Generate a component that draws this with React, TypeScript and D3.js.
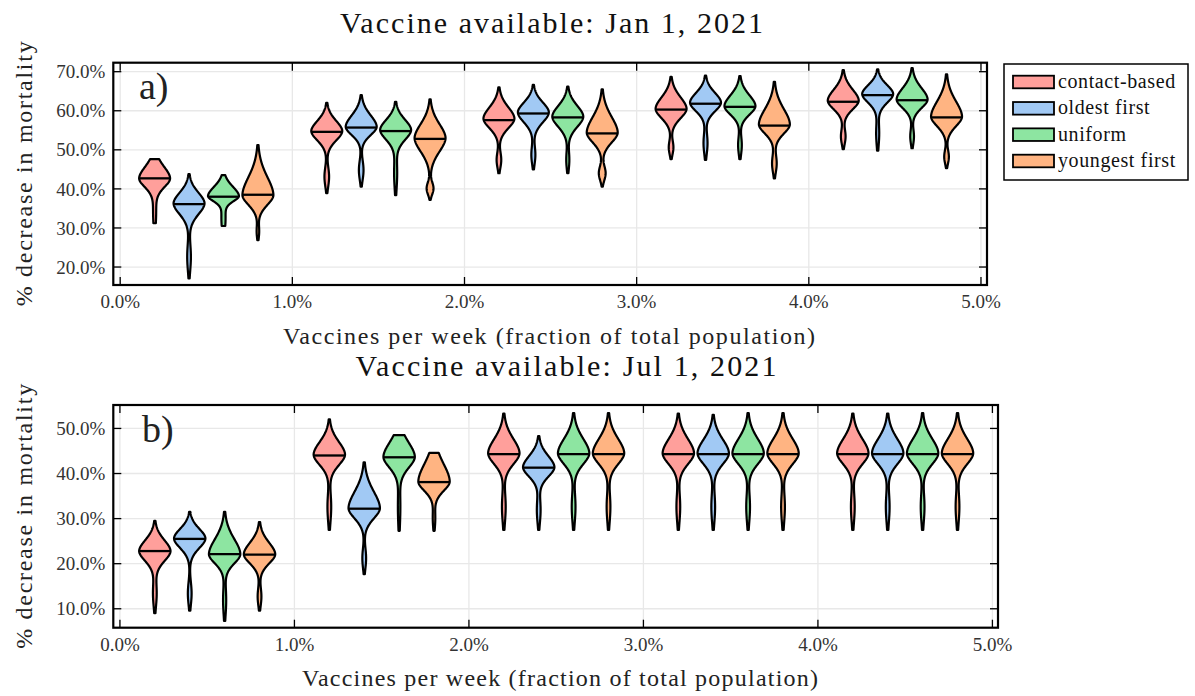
import React, { useEffect, useRef } from 'react';
import * as d3 from 'd3';

// strategies, in legend order
const strategies = ['contact-based', 'oldest first', 'uniform', 'youngest first'];
const colors = ['#FF9F9B', '#A1C9F4', '#8DE5A1', '#FFB482'];
// each strategy sits at group + offset on the x axis (percent per week)
const strategyOffsets = [0.2, 0.4, 0.6, 0.8];
const rateGroups = [0, 1, 2, 3, 4];
const xTicks = [0, 1, 2, 3, 4, 5];
const janYTicks = [20, 30, 40, 50, 60, 70];
const julYTicks = [10, 20, 30, 40, 50];

// one violin per row:
// [min, lower lobe, lobe width, neck, mode, median, max, width at min, width at max]
const janContactBased = [
  [31.2, 34.0, 0.1, 36.5, 42.7, 42.7, 47.6, 0.08, 0.3],
  [38.9, 43.1, 0.15, 48.2, 54.8, 54.6, 62.0, 0.04, 0.04],
  [44.0, 47.4, 0.15, 51.2, 58.0, 57.6, 66.0, 0.04, 0.04],
  [47.6, 50.6, 0.15, 53.8, 60.5, 60.3, 68.7, 0.04, 0.04],
  [50.2, 53.4, 0.15, 56.4, 62.6, 62.3, 70.4, 0.04, 0.04],
];
const janOldestFirst = [
  [17.1, 22.6, 0.12, 28.6, 36.3, 36.1, 43.8, 0.04, 0.04],
  [40.6, 44.8, 0.15, 50.0, 55.9, 55.7, 64.0, 0.04, 0.04],
  [45.0, 48.7, 0.13, 52.5, 59.6, 59.3, 66.6, 0.04, 0.04],
  [47.4, 51.7, 0.13, 55.9, 62.1, 61.8, 69.0, 0.04, 0.04],
  [49.8, 54.2, 0.1, 58.1, 64.3, 64.0, 70.6, 0.04, 0.04],
];
const janUniform = [
  [30.5, 32.5, 0.14, 34.5, 38.2, 38.0, 43.5, 0.12, 0.12],
  [38.4, 44.0, 0.1, 48.2, 55.1, 54.8, 62.3, 0.04, 0.04],
  [44.0, 47.4, 0.1, 51.2, 58.5, 58.3, 66.2, 0.04, 0.04],
  [47.6, 51.2, 0.12, 55.1, 61.2, 61.0, 68.9, 0.04, 0.04],
  [50.4, 53.4, 0.12, 56.8, 62.9, 62.7, 70.9, 0.04, 0.04],
];
const janYoungestFirst = [
  [26.9, 29.0, 0.08, 31.5, 38.4, 38.5, 51.2, 0.04, 0.04],
  [37.2, 40.1, 0.22, 43.5, 53.0, 52.8, 62.9, 0.04, 0.04],
  [40.6, 44.0, 0.22, 47.4, 54.4, 54.2, 65.5, 0.04, 0.04],
  [42.7, 46.5, 0.15, 50.0, 56.5, 56.2, 67.4, 0.04, 0.04],
  [45.3, 48.2, 0.15, 51.7, 58.5, 58.3, 69.3, 0.04, 0.04],
];

const julContactBased = [
  [9.0, 13.4, 0.12, 16.7, 22.8, 22.8, 29.5, 0.04, 0.04],
  [27.5, 32.6, 0.12, 37.8, 44.2, 44.0, 52.0, 0.04, 0.04],
  [27.5, 32.6, 0.12, 37.8, 44.5, 44.3, 53.3, 0.04, 0.04],
  [27.5, 32.6, 0.12, 37.8, 44.5, 44.3, 53.3, 0.04, 0.04],
  [27.5, 32.6, 0.12, 37.8, 44.5, 44.3, 53.3, 0.04, 0.04],
];
const julOldestFirst = [
  [9.6, 13.4, 0.12, 19.7, 25.6, 25.5, 31.5, 0.04, 0.04],
  [17.7, 21.2, 0.12, 26.0, 32.3, 32.2, 42.5, 0.04, 0.04],
  [27.5, 31.9, 0.12, 35.6, 41.4, 41.3, 48.3, 0.04, 0.04],
  [27.5, 32.6, 0.12, 37.8, 44.5, 44.3, 53.0, 0.04, 0.04],
  [27.5, 32.6, 0.12, 37.8, 44.5, 44.3, 53.3, 0.04, 0.04],
];
const julUniform = [
  [7.3, 11.9, 0.1, 16.4, 22.1, 22.1, 31.5, 0.04, 0.04],
  [27.3, 32.6, 0.08, 37.1, 43.7, 43.6, 48.5, 0.04, 0.35],
  [27.5, 32.6, 0.12, 37.8, 44.5, 44.3, 53.4, 0.04, 0.04],
  [27.5, 32.6, 0.12, 37.8, 44.5, 44.3, 53.4, 0.04, 0.04],
  [27.5, 32.6, 0.12, 37.8, 44.5, 44.3, 53.4, 0.04, 0.04],
];
const julYoungestFirst = [
  [9.6, 12.7, 0.12, 16.4, 22.1, 22.0, 29.2, 0.04, 0.04],
  [27.3, 30.0, 0.08, 32.5, 38.2, 38.1, 44.6, 0.04, 0.3],
  [27.5, 32.6, 0.12, 37.8, 44.5, 44.3, 53.4, 0.04, 0.04],
  [27.5, 32.6, 0.12, 37.8, 44.5, 44.3, 53.4, 0.04, 0.04],
  [27.5, 32.6, 0.12, 37.8, 44.5, 44.3, 53.4, 0.04, 0.04],
];

const FONT = '"Liberation Serif", "Times New Roman", serif';

// smooth outline width for one violin, built from the values read above
function violinWidth(v: number[]) {
  const [lo, lobe, lobeW, neck, mode, , hi, loTip, hiTip] = v;
  const p = 1.85;
  const su = (hi - mode) / Math.pow(-Math.log(hiTip), 1 / p);
  const sd = (mode - neck) / Math.pow(-Math.log(0.04), 1 / p);
  const ls = (lobe - lo) / Math.sqrt(-2 * Math.log(Math.min(loTip / lobeW, 0.95)));
  return (val: number) => {
    const d = val - mode;
    const body = Math.exp(-Math.pow(Math.abs(d) / (d > 0 ? su : sd), p));
    const lb = lobeW * Math.exp(-0.5 * ((val - lobe) / ls) ** 2);
    return body + lb;
  };
}

function drawPanel(svg: any, cfg: any) {
  const { left, right, top, bottom, xDomain, yDomain, yTicks, series } = cfg;
  const x = d3.scaleLinear().domain(xDomain).range([left, right]);
  const y = d3.scaleLinear().domain(yDomain).range([bottom, top]);
  const g = svg.append('g');

  // grid
  g.selectAll('.gy')
    .data(yTicks)
    .join('line')
    .attr('x1', left)
    .attr('x2', right)
    .attr('y1', (d) => y(d))
    .attr('y2', (d) => y(d))
    .attr('stroke', '#e8e8e8')
    .attr('stroke-width', 1.3);
  g.selectAll('.gx')
    .data(xTicks)
    .join('line')
    .attr('x1', (d) => x(d))
    .attr('x2', (d) => x(d))
    .attr('y1', top)
    .attr('y2', bottom)
    .attr('stroke', '#e8e8e8')
    .attr('stroke-width', 1.3);

  // violins
  const halfW = x(0.09) - x(0);
  series.forEach((violins, si) => {
    violins.forEach((v, k) => {
      const cx = x(rateGroups[k] + strategyOffsets[si]);
      const lo = v[0];
      const hi = v[6];
      const med = v[5];
      const wf = violinWidth(v);
      const n = 140;
      const pts = d3.range(n + 1).map((i) => {
        const val = lo + ((hi - lo) * i) / n;
        return [val, wf(val)];
      });
      const wmax = d3.max(pts, (d) => d[1]);
      const area = d3
        .area()
        .y((d) => y(d[0]))
        .x0((d) => cx - (d[1] / wmax) * halfW)
        .x1((d) => cx + (d[1] / wmax) * halfW);
      g.append('path')
        .attr('d', area(pts))
        .attr('fill', colors[si])
        .attr('stroke', '#000')
        .attr('stroke-width', 2.2)
        .attr('stroke-linejoin', 'round');
      const mw = (wf(med) / wmax) * halfW;
      g.append('line')
        .attr('x1', cx - mw)
        .attr('x2', cx + mw)
        .attr('y1', y(med))
        .attr('y2', y(med))
        .attr('stroke', '#000')
        .attr('stroke-width', 2.3);
    });
  });

  // ticks (inside, all four sides)
  const tk = 8;
  yTicks.forEach((t) => {
    g.append('line').attr('x1', left).attr('x2', left + tk).attr('y1', y(t)).attr('y2', y(t)).attr('stroke', '#000').attr('stroke-width', 1.3);
    g.append('line').attr('x1', right - tk).attr('x2', right).attr('y1', y(t)).attr('y2', y(t)).attr('stroke', '#000').attr('stroke-width', 1.3);
  });
  xTicks.forEach((t) => {
    g.append('line').attr('x1', x(t)).attr('x2', x(t)).attr('y1', bottom).attr('y2', bottom - tk).attr('stroke', '#000').attr('stroke-width', 1.3);
    g.append('line').attr('x1', x(t)).attr('x2', x(t)).attr('y1', top).attr('y2', top + tk).attr('stroke', '#000').attr('stroke-width', 1.3);
  });

  // frame
  g.append('rect')
    .attr('x', left)
    .attr('y', top)
    .attr('width', right - left)
    .attr('height', bottom - top)
    .attr('fill', 'none')
    .attr('stroke', '#000')
    .attr('stroke-width', 2.2);

  // tick labels
  g.selectAll('.yl')
    .data(yTicks)
    .join('text')
    .attr('x', left - 8)
    .attr('y', (d) => y(d))
    .attr('dy', '0.35em')
    .attr('text-anchor', 'end')
    .attr('font-family', FONT)
    .attr('font-size', 19)
    .attr('fill', '#333')
    .text((d) => d.toFixed(1) + '%');
  g.selectAll('.xl')
    .data(xTicks)
    .join('text')
    .attr('x', (d) => x(d))
    .attr('y', cfg.xTickY)
    .attr('text-anchor', 'middle')
    .attr('font-family', FONT)
    .attr('font-size', 19)
    .attr('fill', '#333')
    .text((d) => d.toFixed(1) + '%');

  // panel letter
  g.append('text')
    .attr('x', cfg.letterX)
    .attr('y', cfg.letterY)
    .attr('font-family', FONT)
    .attr('font-size', 38)
    .attr('fill', '#222')
    .text(cfg.letter);

  // title and axis titles
  g.append('text')
    .attr('x', cfg.titleX)
    .attr('y', cfg.titleY)
    .attr('text-anchor', 'middle')
    .attr('font-family', FONT)
    .attr('font-size', 30)
    .attr('fill', '#111')
    .attr('textLength', cfg.titleLen)
    .attr('lengthAdjust', 'spacing')
    .text(cfg.title);
  g.append('text')
    .attr('x', cfg.xLabelX)
    .attr('y', cfg.xLabelY)
    .attr('text-anchor', 'middle')
    .attr('font-family', FONT)
    .attr('font-size', 24)
    .attr('fill', '#222')
    .attr('textLength', cfg.xLabelLen)
    .attr('lengthAdjust', 'spacing')
    .text('Vaccines per week (fraction of total population)');
  g.append('text')
    .attr('transform', `translate(32,${(top + bottom) / 2}) rotate(-90)`)
    .attr('text-anchor', 'middle')
    .attr('font-family', FONT)
    .attr('font-size', 24)
    .attr('fill', '#222')
    .attr('textLength', 265)
    .attr('lengthAdjust', 'spacing')
    .text('% decrease in mortality');
}

export default function App() {
  const ref = useRef(null);

  useEffect(() => {
    const svg = d3.select(ref.current);
    svg.selectAll('*').remove();

    svg.append('rect').attr('width', 1195).attr('height', 696).attr('fill', '#fff');

    drawPanel(svg, {
      left: 113.3,
      right: 987,
      top: 62.7,
      bottom: 285,
      xDomain: [-0.04, 5.035],
      yDomain: [15.4, 72.3],
      yTicks: janYTicks,
      series: [janContactBased, janOldestFirst, janUniform, janYoungestFirst],
      xTickY: 308,
      letter: 'a)',
      letterX: 139,
      letterY: 99,
      title: 'Vaccine available: Jan 1, 2021',
      titleX: 551.5,
      titleY: 33,
      titleLen: 423,
      xLabelX: 549,
      xLabelY: 344,
      xLabelLen: 532,
    });

    drawPanel(svg, {
      left: 113.3,
      right: 998,
      top: 405,
      bottom: 627.7,
      xDomain: [-0.038, 5.032],
      yDomain: [5.8, 55.2],
      yTicks: julYTicks,
      series: [julContactBased, julOldestFirst, julUniform, julYoungestFirst],
      xTickY: 651,
      letter: 'b)',
      letterX: 142,
      letterY: 442,
      title: 'Vaccine available: Jul 1, 2021',
      titleX: 566,
      titleY: 376,
      titleLen: 421,
      xLabelX: 560,
      xLabelY: 686,
      xLabelLen: 516,
    });

    // legend
    const lg = svg.append('g');
    lg.append('rect')
      .attr('x', 1004)
      .attr('y', 64)
      .attr('width', 184)
      .attr('height', 116)
      .attr('fill', '#fff')
      .attr('stroke', '#000')
      .attr('stroke-width', 1.5);
    const row = d3.scaleLinear().domain([0, 3]).range([82, 161]);
    strategies.forEach((s, i) => {
      lg.append('rect')
        .attr('x', 1013)
        .attr('y', row(i) - 6.3)
        .attr('width', 41)
        .attr('height', 12.6)
        .attr('fill', colors[i])
        .attr('stroke', '#000')
        .attr('stroke-width', 1.8);
      lg.append('text')
        .attr('x', 1058)
        .attr('y', row(i) + 6)
        .attr('font-family', FONT)
        .attr('font-size', 20)
        .attr('letter-spacing', 0.6)
        .attr('fill', '#111')
        .text(s);
    });
  }, []);

  return (
    <svg
      ref={ref}
      width={1195}
      height={696}
      style={{ position: 'absolute', left: 0, top: 0 }}
    ></svg>
  );
}
